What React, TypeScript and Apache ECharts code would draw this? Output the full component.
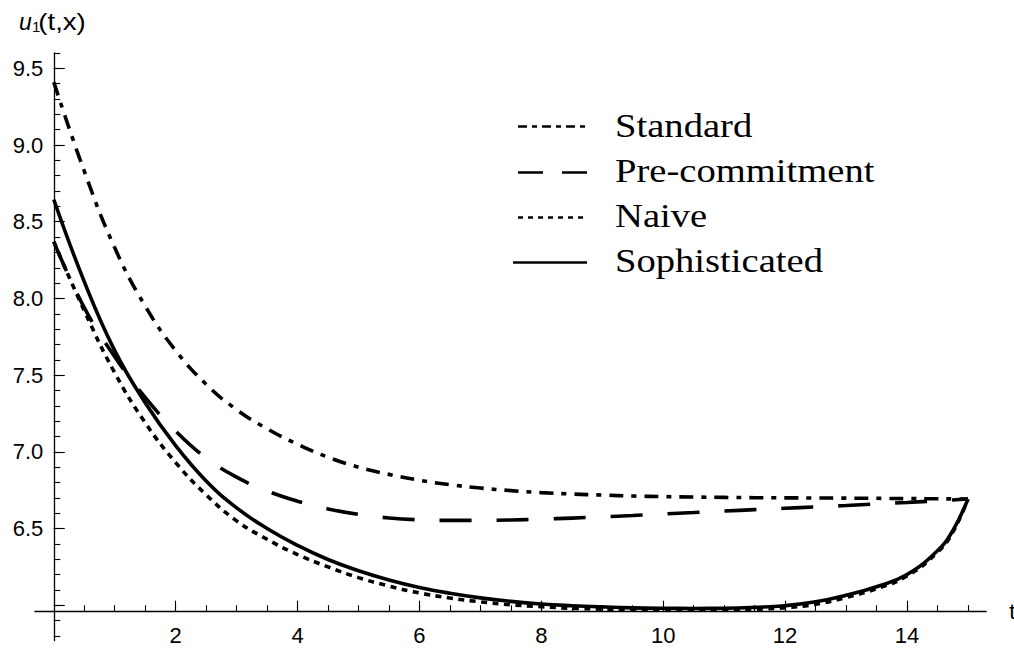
import React, { useEffect, useRef } from 'react';
import * as echarts from 'echarts';

// Sample times (t) shared by all four value curves
const T = [0, 0.5, 1, 1.5, 2, 2.5, 3, 3.5, 4, 4.5, 5, 5.5, 6, 6.5, 7, 7.5, 8, 8.5, 9, 9.5, 10, 10.5, 11, 11.5, 12, 12.5, 13, 13.5, 14, 14.5, 14.75, 15];

const STANDARD = [9.41, 8.83, 8.33, 7.95, 7.66, 7.44, 7.275, 7.15, 7.05, 6.965, 6.9, 6.853, 6.815, 6.786, 6.764, 6.747, 6.734, 6.725, 6.718, 6.712, 6.708, 6.705, 6.703, 6.701, 6.7, 6.699, 6.698, 6.697, 6.695, 6.694, 6.693, 6.692];
const PRE_COMMITMENT = [8.37, 7.94, 7.62, 7.355, 7.135, 6.96, 6.835, 6.745, 6.678, 6.628, 6.592, 6.569, 6.557, 6.553, 6.553, 6.556, 6.561, 6.568, 6.576, 6.585, 6.595, 6.604, 6.614, 6.623, 6.632, 6.641, 6.65, 6.66, 6.67, 6.681, 6.686, 6.692];
const NAIVE = [8.37, 7.92, 7.515, 7.19, 6.93, 6.72, 6.55, 6.43, 6.33, 6.25, 6.18, 6.125, 6.08, 6.047, 6.022, 6.003, 5.99, 5.98, 5.974, 5.97, 5.968, 5.967, 5.968, 5.973, 5.984, 6.006, 6.05, 6.108, 6.19, 6.345, 6.475, 6.692];
const SOPHISTICATED = [8.645, 8.11, 7.66, 7.32, 7.04, 6.81, 6.635, 6.5, 6.39, 6.298, 6.225, 6.165, 6.116, 6.078, 6.048, 6.025, 6.008, 5.997, 5.989, 5.983, 5.98, 5.979, 5.98, 5.986, 5.997, 6.022, 6.065, 6.12, 6.2, 6.355, 6.485, 6.692];

const SERIES_NAMES = ['Standard', 'Pre-commitment', 'Naive', 'Sophisticated'];

// Tick positions and labels
const X_LABELS = [2, 4, 6, 8, 10, 12, 14];
const X_MINOR_TICKS = [0.5, 1, 1.5, 2, 2.5, 3, 3.5, 4, 4.5, 5, 5.5, 6, 6.5, 7, 7.5, 8, 8.5, 9, 9.5, 10, 10.5, 11, 11.5, 12, 12.5, 13, 13.5, 14, 14.5, 15];
const Y_LABELS = [6.5, 7, 7.5, 8, 8.5, 9, 9.5];
const Y_MAJOR_TICKS = [6, 6.5, 7, 7.5, 8, 8.5, 9, 9.5];
const Y_MINOR_TICKS = [5.8, 5.9, 6, 6.1, 6.2, 6.3, 6.4, 6.5, 6.6, 6.7, 6.8, 6.9, 7, 7.1, 7.2, 7.3, 7.4, 7.5, 7.6, 7.7, 7.8, 7.9, 8, 8.1, 8.2, 8.3, 8.4, 8.5, 8.6, 8.7, 8.8, 8.9, 9, 9.1, 9.2, 9.3, 9.4, 9.5, 9.6];

const X_MIN = -0.31;
const X_MAX = 15.3;
const Y_MIN = 5.77;
const Y_MAX = 9.6;

const SANS = '"Liberation Sans", Arial, sans-serif';
const SERIF = '"Liberation Serif", "Times New Roman", serif';

const DASHES: Record<string, number[] | 'solid'> = {
  Standard: [14, 8, 5, 8],
  'Pre-commitment': [32, 25],
  Naive: [6, 5.5],
  Sophisticated: 'solid',
};

const LEGEND_DASHES: Record<string, number[] | null> = {
  Standard: [9, 5, 5, 5],
  'Pre-commitment': [25, 19],
  Naive: [5, 5],
  Sophisticated: null,
};

function pairs(values: number[]) {
  return T.map((t, i) => [t, values[i]]);
}

export default function App() {
  const ref = useRef<HTMLDivElement>(null);

  useEffect(() => {
    if (!ref.current) return;
    const chart = echarts.init(ref.current, null, { renderer: 'svg' });

    const seriesValues = [STANDARD, PRE_COMMITMENT, NAIVE, SOPHISTICATED];

    const series = SERIES_NAMES.map((name, i) => ({
      type: 'line',
      name,
      data: pairs(seriesValues[i]),
      showSymbol: false,
      symbol: 'none',
      smooth: 0.45,
      clip: false,
      lineStyle: { color: '#000', width: 3.6, type: DASHES[name], cap: 'butt' },
      emphasis: { disabled: true },
    }));

    const legendGraphics: any[] = [];
    const rowLine = [126.5, 172.5, 217.5, 262.5];
    const rowText = [125.6, 171.4, 216.4, 260.9];
    SERIES_NAMES.forEach((name, i) => {
      const dash = LEGEND_DASHES[name];
      legendGraphics.push({
        type: 'line',
        shape: { x1: name === 'Sophisticated' ? 513 : 518, y1: rowLine[i], x2: 587, y2: rowLine[i] },
        style: { stroke: '#000', lineWidth: 2.6, lineDash: dash || undefined },
      });
      legendGraphics.push({
        type: 'text',
        x: 615,
        y: rowText[i],
        scaleX: 1.17,
        style: {
          text: name,
          fontSize: 33,
          fontFamily: SERIF,
          fill: '#000',
          align: 'left',
          verticalAlign: 'middle',
        },
      });
    });

    const titleGraphics = [
      { type: 'text', x: 19, y: 22, style: { text: 'u', fontSize: 23, fontStyle: 'italic', fontFamily: SANS, fill: '#000', align: 'left', verticalAlign: 'middle' } },
      { type: 'text', x: 32, y: 26.8, style: { text: '1', fontSize: 15, fontFamily: SANS, fill: '#000', align: 'left', verticalAlign: 'middle' } },
      { type: 'text', x: 38.3, y: 22, scaleX: 1.2, style: { text: '(t,x)', fontSize: 23, fontFamily: SANS, fill: '#000', align: 'left', verticalAlign: 'middle' } },
    ];

    const axisLineStyle = { color: '#000', width: 1.3 };
    const tickStyle = { color: '#000', width: 1.1 };

    const option: any = {
      animation: false,
      backgroundColor: '#ffffff',
      grid: {
        left: 34.9,
        top: 53,
        right: 27.8,
        bottom: 9.5,
        containLabel: false,
        outerBoundsMode: 'none',
      },
      xAxis: [
        {
          type: 'value',
          min: X_MIN,
          max: X_MAX,
          position: 'bottom',
          offset: -28.8,
          name: 't',
          nameLocation: 'end',
          nameGap: 23,
          nameTextStyle: { color: '#000', fontSize: 22, fontFamily: SANS, verticalAlign: 'middle', align: 'left' },
          axisLine: { show: true, onZero: false, lineStyle: axisLineStyle },
          axisTick: { show: true, inside: true, length: 6.5, customValues: X_MINOR_TICKS, lineStyle: tickStyle },
          axisLabel: {
            show: true,
            customValues: X_LABELS,
            margin: 13,
            color: '#000',
            fontSize: 22,
            fontFamily: SANS,
            formatter: (v: number) => String(v),
          },
          splitLine: { show: false },
        },
        {
          type: 'value',
          min: X_MIN,
          max: X_MAX,
          position: 'bottom',
          offset: -28.8,
          axisLine: { show: false, onZero: false },
          axisTick: { show: true, inside: true, length: 11, customValues: X_LABELS, lineStyle: tickStyle },
          axisLabel: { show: false },
          splitLine: { show: false },
        },
      ],
      yAxis: [
        {
          type: 'value',
          min: Y_MIN,
          max: Y_MAX,
          position: 'left',
          offset: -18.9,
          axisLine: { show: true, onZero: false, lineStyle: axisLineStyle },
          axisTick: { show: true, inside: true, length: 6.5, customValues: Y_MINOR_TICKS, lineStyle: tickStyle },
          axisLabel: {
            show: true,
            customValues: Y_LABELS,
            margin: 10.5,
            color: '#000',
            fontSize: 22,
            fontFamily: SANS,
            formatter: (v: number) => v.toFixed(1),
          },
          splitLine: { show: false },
        },
        {
          type: 'value',
          min: Y_MIN,
          max: Y_MAX,
          position: 'left',
          offset: -18.9,
          axisLine: { show: false, onZero: false },
          axisTick: { show: true, inside: true, length: 11, customValues: Y_MAJOR_TICKS, lineStyle: tickStyle },
          axisLabel: { show: false },
          splitLine: { show: false },
        },
      ],
      series,
      graphic: [...legendGraphics, ...titleGraphics],
    };

    chart.setOption(option);
    return () => {
      chart.dispose();
    };
  }, []);

  return (
    <div
      ref={ref}
      style={{ position: 'absolute', left: 0, top: 0, width: 1014, height: 650, background: '#fff' }}
    />
  );
}
